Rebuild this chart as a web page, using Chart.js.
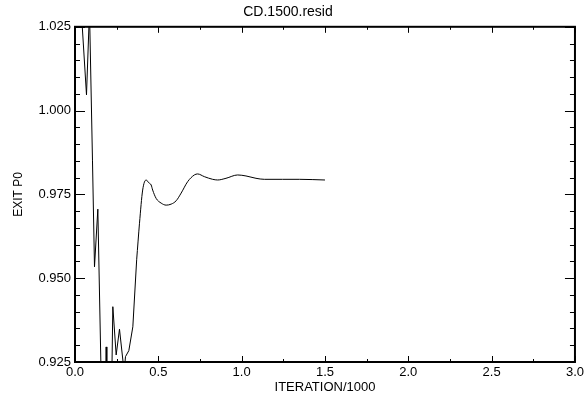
<!DOCTYPE html>
<html>
<head>
<meta charset="utf-8">
<script src="https://cdn.jsdelivr.net/npm/chart.js@4/dist/chart.umd.min.js"></script>
<style>
  html, body { margin: 0; padding: 0; background: #fff; }
  canvas { display: block; }
</style>
</head>
<body>
<canvas id="resid" width="587" height="401"></canvas>
<script>
/* ---------- DATA ---------- */
const iteration = [0.000, 0.069, 0.087, 0.105, 0.117, 0.137, 0.165, 0.183, 0.187, 0.191, 0.215,
  0.227, 0.247, 0.267, 0.295, 0.303, 0.323, 0.347, 0.370, 0.387, 0.406, 0.427, 0.442, 0.457,
  0.466, 0.487, 0.517, 0.547, 0.577, 0.607, 0.637, 0.676, 0.716, 0.736, 0.776, 0.826, 0.856,
  0.906, 0.976, 1.026, 1.086, 1.136, 1.246, 1.346, 1.500];
const exitP0 = [1.060, 1.0047, 1.030, 0.985, 0.9534, 0.9706, 0.900, 0.900, 0.9295, 0.900, 0.900,
  0.9415, 0.9271, 0.9348, 0.922, 0.9266, 0.9284, 0.9355, 0.9555, 0.9664, 0.9763, 0.9793, 0.9785, 0.9778,
  0.9763, 0.9738, 0.9724, 0.9718, 0.9721, 0.9731, 0.9754, 0.9788, 0.9808, 0.9811, 0.9803, 0.9795, 0.9793,
  0.9798, 0.9808, 0.9805, 0.9798, 0.9795, 0.9795, 0.9795, 0.9793];

const xMajor = [0, 0.5, 1.0, 1.5, 2.0, 2.5, 3.0];
const yMajor = [0.925, 0.950, 0.975, 1.000, 1.025];

// the noisy start is drawn with straight segments, the settled part smoothed
const SPLIT = 18;

const FONT = "'Liberation Sans', Arial, Helvetica, sans-serif";

/* ---------- FRAME + INWARD TICKS ---------- */
const frameTicks = {
  id: "frameTicks",
  afterDraw(chart) {
    const { ctx, chartArea: a, scales: { x, y } } = chart;
    ctx.save();
    ctx.strokeStyle = "#000";

    ctx.lineWidth = 1;
    ctx.beginPath();
    // x ticks every 0.25, bottom and top
    for (let i = 0; i <= 12; i++) {
      const px = Math.round(x.getPixelForValue(i * 0.25)) + 0.5;
      const len = i % 2 === 0 ? 6 : 3;
      ctx.moveTo(px, a.bottom); ctx.lineTo(px, a.bottom - len);
      ctx.moveTo(px, a.top); ctx.lineTo(px, a.top + len);
    }
    // y ticks every 0.005, left and right
    for (let i = 0; i <= 20; i++) {
      const py = Math.round(y.getPixelForValue(0.925 + i * 0.005)) + 0.5;
      const len = i % 5 === 0 ? 10 : 5;
      ctx.moveTo(a.left, py); ctx.lineTo(a.left + len, py);
      ctx.moveTo(a.right, py); ctx.lineTo(a.right - len, py);
    }
    ctx.stroke();

    ctx.lineWidth = 2;
    ctx.strokeRect(a.left, a.top, a.right - a.left, a.bottom - a.top);
    ctx.restore();
  }
};

const points = iteration.map((v, i) => ({ x: v, y: exitP0[i] }));

/* ---------- CHART ---------- */
new Chart(document.getElementById("resid"), {
  type: "line",
  data: {
    datasets: [{
      data: points.slice(0, SPLIT + 1),
      borderColor: "#000",
      borderWidth: 1,
      pointRadius: 0,
      tension: 0,
      fill: false
    }, {
      data: points.slice(SPLIT),
      borderColor: "#000",
      borderWidth: 1,
      pointRadius: 0,
      cubicInterpolationMode: "monotone",
      fill: false
    }]
  },
  options: {
    responsive: false,
    animation: false,
    layout: { padding: { left: 0, right: 11, top: 0, bottom: 0 } },
    plugins: {
      legend: { display: false },
      tooltip: { enabled: false },
      title: {
        display: true,
        text: "CD.1500.resid",
        color: "#000",
        font: { family: FONT, size: 14, weight: "normal" },
        padding: { top: 4, bottom: 6 }
      }
    },
    scales: {
      x: {
        type: "linear",
        min: 0,
        max: 3,
        afterBuildTicks: s => { s.ticks = xMajor.map(v => ({ value: v })); },
        afterFit: s => { s.height = 39; },
        ticks: {
          color: "#000",
          font: { family: FONT, size: 13 },
          padding: 3,
          maxRotation: 0,
          callback: v => Number(v).toFixed(1)
        },
        grid: { display: false, drawTicks: false },
        border: { display: false },
        title: {
          display: true,
          text: "ITERATION/1000",
          color: "#000",
          font: { family: FONT, size: 13 },
          padding: { top: 0, bottom: 6 }
        }
      },
      y: {
        type: "linear",
        min: 0.925,
        max: 1.025,
        afterBuildTicks: s => { s.ticks = yMajor.map(v => ({ value: v })); },
        afterFit: s => { s.width = 75; },
        ticks: {
          color: "#000",
          font: { family: FONT, size: 13 },
          padding: 4,
          callback: v => Number(v).toFixed(3)
        },
        grid: { display: false, drawTicks: false },
        border: { display: false },
        title: {
          display: true,
          text: "EXIT P0",
          color: "#000",
          font: { family: FONT, size: 12 },
          padding: { top: 11, bottom: 0 }
        }
      }
    }
  },
  plugins: [frameTicks]
});
</script>
</body>
</html>
